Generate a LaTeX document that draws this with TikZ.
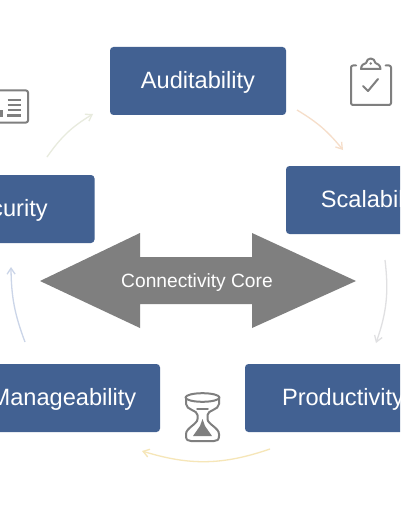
\documentclass[tikz,border=0pt]{standalone}
\usepackage{fontspec}
\setmainfont{Liberation Sans}
\usetikzlibrary{arrows.meta}
\definecolor{boxblue}{HTML}{426192}
\definecolor{coregray}{HTML}{7F7F7F}
\definecolor{icongray}{HTML}{7F7F7F}
\tikzset{
  topic/.style={draw=none,fill=boxblue,rounded corners=3.5pt,minimum width=176pt,minimum height=68pt,inner sep=0pt,text=white,text height=14.5pt,text depth=0pt,font=\fontsize{23.6}{28}\selectfont},
  flow/.style={line width=1.3pt,-{Straight Barb[length=6pt,width=8pt]}},
  iconline/.style={draw=icongray,line width=2pt,fill=none,line cap=round,line join=round},
}
\begin{document}
\begin{tikzpicture}[x=1pt,y=-1pt]
\useasboundingbox (0,0) rectangle (400,516);
\clip (0,0) rectangle (400,516);
\fill[white] (0,0) rectangle (400,516);
\node[topic] (aud) at (198,81) {Auditability};
\node[topic] (sca) at (374,200) {Scalability};
\node[topic] (pro) at (333,398) {\hspace*{20pt}Productivity};
\node[topic] (man) at (72,398) {\hspace*{-17pt}Manageability};
\node[topic] (sec) at (6.5,209) {\hspace*{-3pt}Security};
\fill[coregray] (40,281) -- (140,233) -- (140,257) -- (252,257) -- (252,233) -- (356,281) -- (252,328) -- (252,304) -- (140,304) -- (140,328) -- cycle;
\node[text=white,inner sep=0pt,text height=13pt,text depth=0pt,font=\fontsize{19.2}{23}\selectfont] (corelabel) at (197,281) {Connectivity Core};
% connectors
\coordinate (a1) at (47,157); \coordinate (a2) at (93,114);
\coordinate (b1) at (297,110); \coordinate (b2) at (343,150);
\coordinate (c1) at (385,260); \coordinate (c2) at (376,343);
\coordinate (d1) at (270,449); \coordinate (d2) at (142,451);
\coordinate (e1) at (25,342); \coordinate (e2) at (11,267);
\draw[flow,draw={rgb,255:red,232;green,235;blue,222}] (a1) to[bend left=12] (a2);
\draw[flow,draw={rgb,255:red,246;green,222;blue,202}] (b1) to[bend left=10] (b2);
\draw[flow,draw={rgb,255:red,224;green,224;blue,226}] (c1) to[bend left=13] (c2);
\draw[flow,draw={rgb,255:red,246;green,230;blue,184}] (d1) to[bend left=18] (d2);
\draw[flow,draw={rgb,255:red,203;green,213;blue,232}] (e1) to[bend left=10] (e2);
% clipboard
\draw[iconline,rounded corners=2pt] (356,65.5) -- (351,65.5) -- (351,105) -- (391,105) -- (391,65.5) -- (385.5,65.5);
\draw[iconline] (361,69) -- (380.5,69) .. controls (380.5,65) and (377,63.5) .. (375.5,63) .. controls (374.5,57) and (367,57) .. (366,63) .. controls (364,63.5) and (361,65) .. (361,69) -- cycle;
\draw[iconline] (363,86) -- (368,91) -- (378,79);
\fill[icongray] (370.7,63.5) circle (1.4pt);
% hourglass
\draw[iconline] (202.5,397.5) ellipse (17pt and 4.3pt);
\draw[iconline] (186,398) -- (186,404) .. controls (186,410) and (197.5,410) .. (197.5,415) -- (197.5,419) .. controls (197.5,424) and (186,428) .. (186,434) -- (186,436) .. controls (186,440) and (188,441) .. (191,441) -- (214,441) .. controls (217,441) and (219,440) .. (219,436) -- (219,434) .. controls (219,428) and (207.5,424) .. (207.5,419) -- (207.5,415) .. controls (207.5,410) and (219,410) .. (219,404) -- (219,398);
\draw[iconline,line width=1.5pt] (197,409) -- (208,409);
\fill[icongray] (202.5,419) -- (205,426) -- (212,436) -- (193,436) -- (200,426) -- cycle;
% list icon
\draw[iconline,rounded corners=2pt] (-3,90.5) -- (28,90.5) -- (28,122.5) -- (-3,122.5);
\draw[iconline,line cap=butt] (7.5,100) -- (21,100) (7.5,105.5) -- (21,105.5) (7.5,110.5) -- (21,110.5) (7,115.5) -- (21,115.5);
\fill[icongray] (0,110) rectangle (2.5,117);
\end{tikzpicture}
\end{document}
